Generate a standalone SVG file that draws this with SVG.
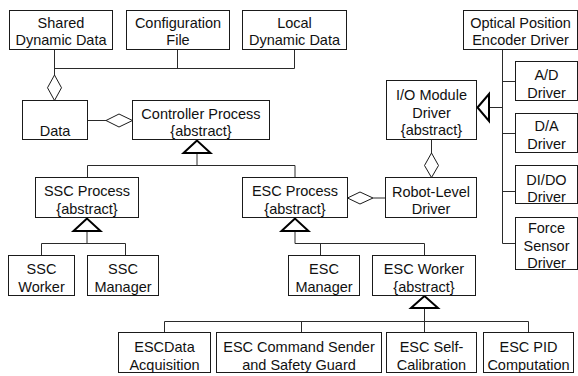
<svg xmlns="http://www.w3.org/2000/svg" width="578" height="376" viewBox="0 0 578 376">
  <style>
    .box { fill: #ffffff; stroke: #1a1a1a; stroke-width: 1; }
    .lbl { font-family: "Liberation Sans", Arial, sans-serif; font-size: 14.5px; fill: #111111; text-anchor: middle; }
    .ln { fill: none; stroke: #2a2a2a; stroke-width: 1; }
    .dia { fill: #ffffff; stroke: #1a1a1a; stroke-width: 1; }
    .gen { fill: #ffffff; stroke: #000000; stroke-width: 2; stroke-linejoin: miter; }
  </style>
  <rect width="578" height="376" fill="#ffffff"/>

  <!-- connectors -->
  <g id="connectors">
    <!-- data sources joined to Data -->
    <path class="ln" d="M54.5,49.5 V75 M177.5,49.5 V68.5 M294.5,49.5 V68.5 M54.5,68.5 H294.5"/>
    <polygon class="dia" points="54.5,75 61.5,87.75 54.5,100.5 47.5,87.75"/>
    <!-- Data aggregated by Controller Process -->
    <path class="ln" d="M87.5,120.5 H106"/>
    <polygon class="dia" points="106,120.5 119,114 132.5,120.5 119,127"/>
    <!-- Controller Process generalisation -->
    <path class="ln" d="M197,153 V165.5 M87.5,165.5 H295 M87.5,165.5 V177.5 M295,165.5 V177.5"/>
    <polygon class="gen" points="197,140.5 183.5,153 210.5,153"/>
    <!-- SSC Process generalisation -->
    <path class="ln" d="M87,231 V243.5 M41.5,243.5 H125.5 M41.5,243.5 V255.5 M125.5,243.5 V255.5"/>
    <polygon class="gen" points="87,218.5 73.5,231 100.5,231"/>
    <!-- ESC Process generalisation -->
    <path class="ln" d="M295,231 V243.5 M295,243.5 H424.5 M320.5,243.5 V255.5 M424.5,243.5 V255.5"/>
    <polygon class="gen" points="295,218.5 281.5,231 308.5,231"/>
    <!-- ESC Worker generalisation -->
    <path class="ln" d="M424.5,308 V332.5 M164.5,321.5 H528.5 M164.5,321.5 V332.5 M301.5,321.5 V332.5 M528.5,321.5 V332.5"/>
    <polygon class="gen" points="424.5,296 411,308 438,308"/>
    <!-- Robot-Level Driver aggregated by ESC Process -->
    <path class="ln" d="M373,198 H385.5"/>
    <polygon class="dia" points="347.5,198 360,192 373,198 360,204"/>
    <!-- I/O Module Driver aggregated by Robot-Level Driver -->
    <path class="ln" d="M431.5,139.5 V153"/>
    <polygon class="dia" points="431.5,153 438.5,165.5 431.5,177.5 424.5,165.5"/>
    <!-- driver generalisation -->
    <path class="ln" d="M502.5,49.5 V243.5 M502.5,81.5 H515.5 M502.5,133.5 H515.5 M502.5,191.5 H515.5 M502.5,243.5 H515.5 M489,107.5 H502.5"/>
    <polygon class="gen" points="477.5,107.5 489,94 489,121"/>
  </g>

  <!-- nodes -->
  <g id="shared-dynamic-data">
    <rect class="box" x="9.5" y="10.5" width="103" height="39"/>
    <text class="lbl" x="61" y="27.5">Shared</text>
    <text class="lbl" x="61" y="45">Dynamic Data</text>
  </g>
  <g id="configuration-file">
    <rect class="box" x="126.5" y="10.5" width="103" height="39"/>
    <text class="lbl" x="178" y="27.5">Configuration</text>
    <text class="lbl" x="178" y="45">File</text>
  </g>
  <g id="local-dynamic-data">
    <rect class="box" x="242.5" y="10.5" width="104" height="39"/>
    <text class="lbl" x="294.5" y="27.5">Local</text>
    <text class="lbl" x="294.5" y="45">Dynamic Data</text>
  </g>
  <g id="optical-position-encoder-driver">
    <rect class="box" x="463.5" y="10.5" width="114" height="39"/>
    <text class="lbl" x="520.5" y="27.5">Optical Position</text>
    <text class="lbl" x="520.5" y="45">Encoder Driver</text>
  </g>
  <g id="data">
    <rect class="box" x="22.5" y="100.5" width="65" height="39"/>
    <text class="lbl" x="55" y="136">Data</text>
  </g>
  <g id="controller-process">
    <rect class="box" x="132.5" y="100.5" width="137" height="39"/>
    <text class="lbl" x="201" y="119">Controller Process</text>
    <text class="lbl" x="201" y="136">{abstract}</text>
  </g>
  <g id="io-module-driver">
    <rect class="box" x="386.5" y="80.5" width="90" height="59"/>
    <text class="lbl" x="431.5" y="100">I/O Module</text>
    <text class="lbl" x="431.5" y="117.5">Driver</text>
    <text class="lbl" x="431.5" y="135">{abstract}</text>
  </g>
  <g id="ad-driver">
    <rect class="box" x="515.5" y="61.5" width="62" height="39"/>
    <text class="lbl" x="546.5" y="80">A/D</text>
    <text class="lbl" x="546.5" y="97.5">Driver</text>
  </g>
  <g id="da-driver">
    <rect class="box" x="515.5" y="113.5" width="62" height="39"/>
    <text class="lbl" x="546.5" y="131">D/A</text>
    <text class="lbl" x="546.5" y="148.5">Driver</text>
  </g>
  <g id="dido-driver">
    <rect class="box" x="515.5" y="165.5" width="62" height="38"/>
    <text class="lbl" x="546.5" y="185">DI/DO</text>
    <text class="lbl" x="546.5" y="202">Driver</text>
  </g>
  <g id="force-sensor-driver">
    <rect class="box" x="515.5" y="217.5" width="62" height="52"/>
    <text class="lbl" x="546.5" y="233">Force</text>
    <text class="lbl" x="546.5" y="250.5">Sensor</text>
    <text class="lbl" x="546.5" y="268">Driver</text>
  </g>
  <g id="ssc-process">
    <rect class="box" x="35.5" y="177.5" width="103" height="40"/>
    <text class="lbl" x="87" y="196">SSC Process</text>
    <text class="lbl" x="87" y="214">{abstract}</text>
  </g>
  <g id="esc-process">
    <rect class="box" x="242.5" y="177.5" width="105" height="40"/>
    <text class="lbl" x="295" y="196">ESC Process</text>
    <text class="lbl" x="295" y="214">{abstract}</text>
  </g>
  <g id="robot-level-driver">
    <rect class="box" x="385.5" y="177.5" width="91" height="40"/>
    <text class="lbl" x="431" y="197">Robot-Level</text>
    <text class="lbl" x="431" y="214">Driver</text>
  </g>
  <g id="ssc-worker">
    <rect class="box" x="8.5" y="255.5" width="66" height="40"/>
    <text class="lbl" x="41.5" y="274">SSC</text>
    <text class="lbl" x="41.5" y="291.5">Worker</text>
  </g>
  <g id="ssc-manager">
    <rect class="box" x="87.5" y="255.5" width="71" height="40"/>
    <text class="lbl" x="123" y="274">SSC</text>
    <text class="lbl" x="123" y="291.5">Manager</text>
  </g>
  <g id="esc-manager">
    <rect class="box" x="288.5" y="255.5" width="71" height="40"/>
    <text class="lbl" x="324" y="274">ESC</text>
    <text class="lbl" x="324" y="291.5">Manager</text>
  </g>
  <g id="esc-worker">
    <rect class="box" x="372.5" y="255.5" width="103" height="40"/>
    <text class="lbl" x="424" y="274">ESC Worker</text>
    <text class="lbl" x="424" y="291.5">{abstract}</text>
  </g>
  <g id="esc-data-acquisition">
    <rect class="box" x="118.5" y="332.5" width="92" height="40"/>
    <text class="lbl" x="164.5" y="352">ESCData</text>
    <text class="lbl" x="164.5" y="369.5">Acquisition</text>
  </g>
  <g id="esc-command-sender">
    <rect class="box" x="216.5" y="332.5" width="165" height="40"/>
    <text class="lbl" x="299" y="352">ESC Command Sender</text>
    <text class="lbl" x="299" y="369.5">and Safety Guard</text>
  </g>
  <g id="esc-self-calibration">
    <rect class="box" x="386.5" y="332.5" width="90" height="40"/>
    <text class="lbl" x="431.5" y="352">ESC Self-</text>
    <text class="lbl" x="431.5" y="369.5">Calibration</text>
  </g>
  <g id="esc-pid-computation">
    <rect class="box" x="483.5" y="332.5" width="90" height="40"/>
    <text class="lbl" x="528.5" y="352">ESC PID</text>
    <text class="lbl" x="528.5" y="369.5">Computation</text>
  </g>
</svg>
